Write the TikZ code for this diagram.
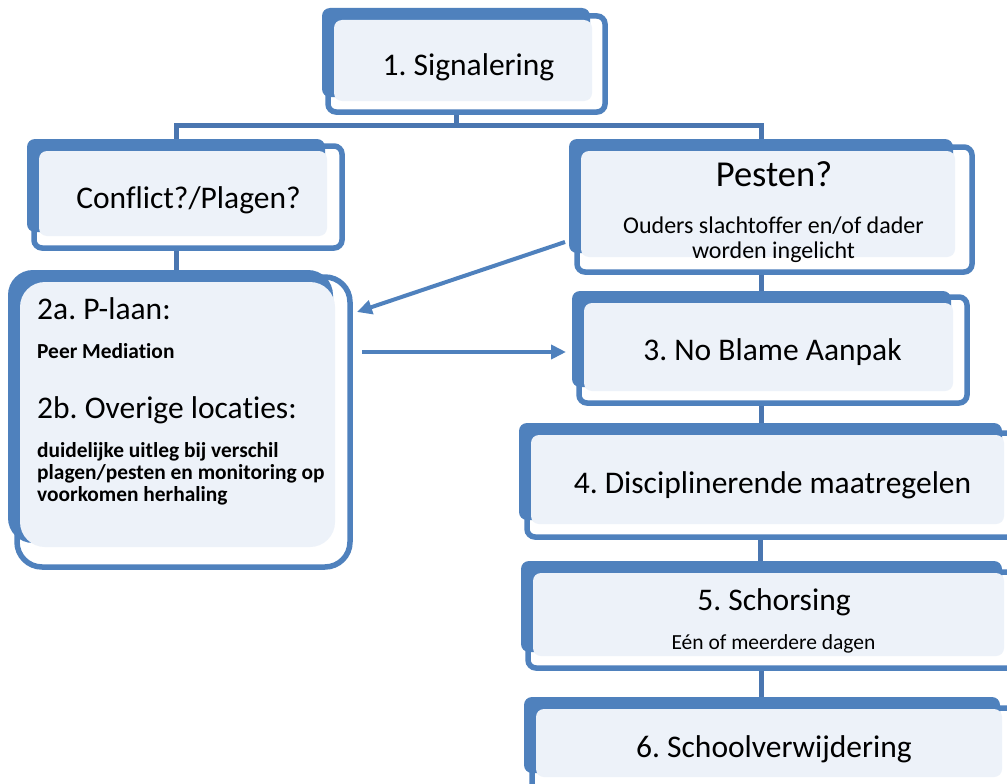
\documentclass[tikz,border=0pt]{standalone}
\usepackage{fontspec}
\setmainfont{Carlito}[Ligatures={NoCommon}]
\usetikzlibrary{fit,arrows.meta}
\definecolor{accblue}{HTML}{4F81BD}
\definecolor{connblue}{HTML}{4A76B0}
\definecolor{litefill}{HTML}{EDF2F9}
\def\boxrad{8pt}
\tikzset{
  outl/.style={draw=accblue, line width=5.5pt, fill=white, inner sep=0pt, rounded corners=\boxrad},
  back/.style={fill=accblue, inner sep=0pt, rounded corners=\boxrad},
  lite/.style={fill=litefill, inner sep=0pt, rounded corners=\boxrad},
  conn/.style={draw=connblue, line width=5pt},
  arr/.style={draw=accblue, line width=4pt, -{Triangle[length=15pt,width=14pt]}},
  big/.style={inner sep=0pt, anchor=base, font=\fontsize{31.5}{38}\selectfont},
  bigw/.style={inner sep=0pt, anchor=base west, font=\fontsize{31.5}{38}\selectfont},
  huge/.style={inner sep=0pt, anchor=base, font=\fontsize{36.5}{44}\selectfont},
  small/.style={inner sep=0pt, anchor=base, font=\fontsize{21.5}{26}\selectfont},
  mid/.style={inner sep=0pt, anchor=base, font=\fontsize{24}{29}\selectfont},
  boldw/.style={inner sep=0pt, anchor=base west, font=\fontsize{21.4}{26}\selectfont\bfseries},
}
\newcommand\flowbox[9]{%
  \node[outl, fit={(#6,#7) (#8,#9)}] (#1o) {};
  \node[back, fit={(#2,#3) (#4,#5)}] (#1) {};
  \node[lite, fit={(#2+12,#3+12) (#4+2,#5+4)}] (#1l) {};
}
\begin{document}
\frenchspacing
\begin{tikzpicture}[x=1pt,y=-1pt]
\useasboundingbox (0,0) rectangle (1007,784);
\fill[white] (0,0) rectangle (1007,784);
\clip (0,0) rectangle (1007,784);

% boxes
\flowbox{b1}{322}{8}{590}{97}{328}{16}{605}{112}
\flowbox{bc}{27}{139}{325}{232}{34}{146}{342}{248}
\flowbox{bp}{569}{139}{953}{253}{577}{147}{972}{272}
\begingroup
\def\boxrad{25pt}
\flowbox{b2}{8}{270}{333}{543}{17}{277}{350}{567}
\endgroup
\flowbox{b3}{572}{291}{951}{387}{579}{297}{967}{403}
\flowbox{b4}{519}{423}{1002}{520}{527}{433}{1030}{537}
\flowbox{b5}{521}{561}{1002}{652}{528}{572}{1030}{668}
\flowbox{b6}{524}{697}{1000}{773}{532}{708}{1030}{800}

% connectors
\coordinate (jn) at (456,125);
\draw[conn] (b1o.south -| jn) -- (jn);
\draw[conn] (bc.north) |- (jn) -| (bp.north);
\draw[conn] (bc.south |- bco.south) -- (bc.south |- b2.north);
\draw[conn] (bp.south |- bpo.south) -- (bp.south |- b3.north);
\draw[conn] (b3.south |- b3o.south) -- (b3.south |- b4.north);
\draw[conn] (b4.south |- b4o.south) -- (b4.south |- b5.north);
\draw[conn] (b5.south |- b5o.south) -- (b5.south |- b6.north);

% arrows
\coordinate (a1s) at (565,242);
\coordinate (a1e) at (357,312);
\coordinate (a2s) at (362,352);
\coordinate (a2e) at (566,352);
\draw[arr] (a1s) -- (a1e);
\draw[arr] (a2s) -- (a2e);

% texts
\node[big] (t1) at (468.5,76) {1. Signalering};
\node[big] (tc) at (188.5,208) {Conflict?/Plagen?};
\node[huge] (tp) at (774,186) {Pesten?};
\node[mid] (tpa) at (773.5,233) {Ouders slachtoffer en/of dader};
\node[mid] (tpb) at (773.5,258) {worden ingelicht};
\node[bigw] (t2a) at (37,319) {2a. P-laan:};
\node[boldw] (t2ab) at (37,358) {Peer Mediation};
\node[bigw] (t2b) at (37,418) {2b. Overige locaties:};
\node[boldw] (t2b1) at (37,457) {duidelijke uitleg bij verschil};
\node[boldw] (t2b2) at (37,479) {plagen/pesten en monitoring op};
\node[boldw] (t2b3) at (37,501) {voorkomen herhaling};
\node[big] (t3) at (772.5,360) {3. No Blame Aanpak};
\node[big] (t4) at (772.5,493) {4. Disciplinerende maatregelen};
\node[big] (t5) at (774,610) {5. Schorsing};
\node[small] (t5b) at (773.5,649) {Eén of meerdere dagen};
\node[big] (t6) at (774,757) {6. Schoolverwijdering};
\end{tikzpicture}
\end{document}
